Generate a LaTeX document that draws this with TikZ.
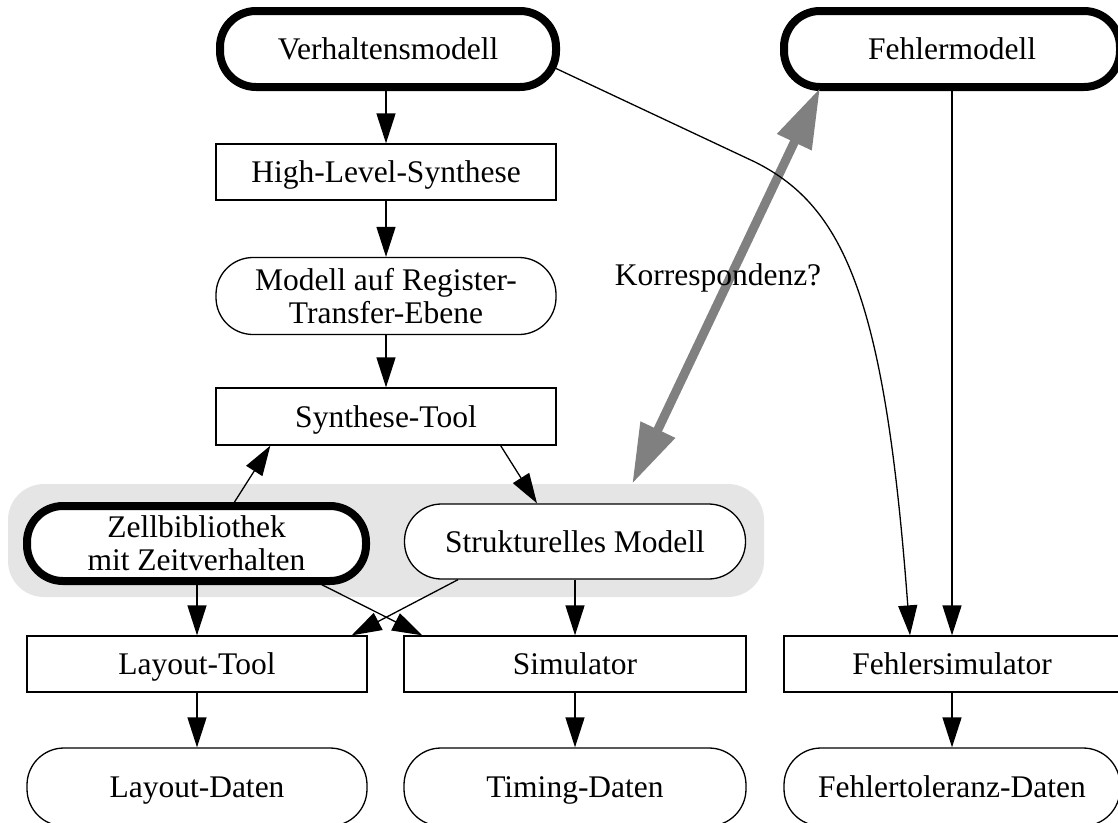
\documentclass[tikz,border=0pt]{standalone}
\usepackage{fontspec}
\setmainfont{Liberation Serif}
\usetikzlibrary{arrows.meta,calc}
\newcommand\diafont{\fontsize{31.5}{33}\selectfont}
\definecolor{bggray}{gray}{0.9}
\definecolor{corrgray}{gray}{0.5}
\tikzset{
  box/.style={draw, fill=white, line width=1.3pt, minimum width=340pt,
    minimum height=56pt, inner sep=0pt, align=center, font=\diafont},
  oneline/.style={text height=22pt, text depth=1pt},
  pill/.style={box, rounded corners=37pt, minimum height=77pt},
  thickpill/.style={pill, line width=8pt, rounded corners=36pt, minimum height=76pt},
  arr/.style={-{Triangle[length=30pt,width=19pt]}, line width=1.3pt},
  corr/.style={{Triangle[length=60pt,width=36pt]}-{Triangle[length=60pt,width=36pt]},
    line width=9pt, draw=corrgray, fill=corrgray},
}
\begin{document}
\begin{tikzpicture}[x=1pt,y=-1pt]
\useasboundingbox (0,0) rectangle (1118,822);
\clip (0,0) rectangle (1118,822);

% shaded group behind the cell library and the structural model
\node (bg) [fill=bggray, rounded corners=36pt, minimum width=756pt,
  minimum height=113pt, inner sep=0pt] at (386,540.5) {};

% left / middle flow
\node (verh)   [thickpill, oneline, minimum width=336pt] at (388,49) {Verhaltensmodell};
\node (hls)    [box, oneline]  at (386,172) {High-Level-Synthese};
\node (rtl)    [pill] at (386,296) {Modell auf Register-\\Transfer-Ebene};
\node (syn)    [box, oneline, minimum height=57pt] at (386,416.5) {Synthese-Tool};
\node (zell)   [thickpill, minimum width=339pt, minimum height=75pt] at (196.5,543.5)
  {Zellbibliothek\\mit Zeitverhalten};
\node (strukt) [pill, oneline, minimum width=341pt, minimum height=75pt] at (575,541.5)
  {Strukturelles Modell};
\node (lt)     [box, oneline]  at (197,664) {Layout-Tool};
\node (sim)    [box, oneline, minimum width=342pt] at (575,664) {Simulator};
\node (ld)     [pill, oneline, minimum height=78pt] at (197,787) {Layout-Daten};
\node (td)     [pill, oneline, minimum width=342pt, minimum height=78pt] at (575,787) {Timing-Daten};

% fault column
\node (fmod)   [thickpill, oneline, minimum width=336pt] at (952,49) {Fehlermodell};
\node (fsim)   [box, oneline, minimum width=336pt] at (952,664) {Fehlersimulator};
\node (ftd)    [pill, oneline, minimum width=336pt, minimum height=78pt] at (952,787)
  {Fehlertoleranz-Daten};

% correspondence arrow
\draw[corr] ($(bg.north east)+(-132,0)$) -- ($(fmod.south west)+(40,-3)$);

% flow connectors
\draw[arr] (verh.south -| hls.north) -- (hls.north);
\draw[arr] (hls.south) -- (rtl.north);
\draw[arr] (rtl.south) -- (syn.north);
\draw[arr] ($(zell.north)+(38,0)$) -- ($(syn.south west)+(55,0)$);
\draw[arr] ($(syn.south east)+(-56,0)$) -- ($(strukt.north)+(-38,0)$);
\draw[arr] (zell.south -| lt.north) -- (lt.north);
\draw[arr] ($(zell.south)+(122,-2)$) -- ($(sim.north west)+(19,0)$);
\draw[arr] ($(strukt.south)+(-117,0)$) -- ($(lt.north east)+(-16,0)$);
\draw[arr] (strukt.south) -- (sim.north);
\draw[arr] (lt.south) -- (ld.north);
\draw[arr] (sim.south) -- (td.north);
\draw[arr] (fmod.south) -- (fsim.north);
\draw[arr] (fsim.south) -- (ftd.north);
\draw[arr] ($(verh.east)+(-5,19)$) -- (755,162)
  .. controls (845,207) and (885,300) .. ($(fsim.north)+(-42,0)$);

\node (korr) [font=\diafont, inner sep=0pt] at (718,278) {Korrespondenz?};
\end{tikzpicture}
\end{document}
